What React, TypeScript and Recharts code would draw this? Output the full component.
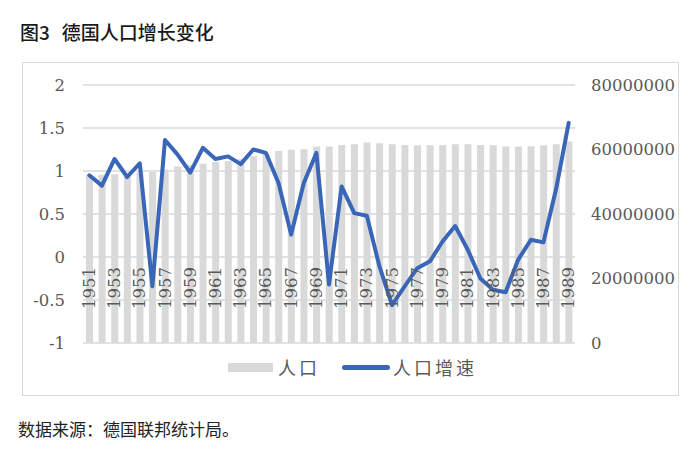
import { Bar, CartesianGrid, ComposedChart, Legend, Line, XAxis, YAxis } from "recharts"

const years = [
  "1951", "1952", "1953", "1954", "1955", "1956", "1957", "1958", "1959", "1960",
  "1961", "1962", "1963", "1964", "1965", "1966", "1967", "1968", "1969", "1970",
  "1971", "1972", "1973", "1974", "1975", "1976", "1977", "1978", "1979", "1980",
  "1981", "1982", "1983", "1984", "1985", "1986", "1987", "1988", "1989",
]

// 人口 (people)
const population = [
  52000000, 52200000, 52300000, 52600000, 52900000, 53000000, 53800000, 54700000, 55200000, 55600000,
  56100000, 56400000, 57000000, 57900000, 58700000, 59500000, 59900000, 60100000, 60900000, 60900000,
  61400000, 61600000, 62200000, 61900000, 61600000, 61400000, 61300000, 61300000, 61400000, 61600000,
  61600000, 61400000, 61300000, 60900000, 60900000, 61000000, 61300000, 61600000, 62500000,
]

// 人口增速 (%)
const growth = [
  0.95, 0.83, 1.14, 0.93, 1.09, -0.34, 1.36, 1.19, 0.98, 1.27,
  1.14, 1.17, 1.08, 1.25, 1.21, 0.86, 0.26, 0.86, 1.21, -0.32,
  0.82, 0.51, 0.48, -0.11, -0.56, -0.34, -0.13, -0.05, 0.18, 0.36,
  0.085, -0.25, -0.38, -0.41, -0.03, 0.2, 0.17, 0.79, 1.56,
]

const leftTicks = [-1, -0.5, 0, 0.5, 1, 1.5, 2]
const rightTicks = [0, 20000000, 40000000, 60000000, 80000000]

const data = years.map((year, i) => ({
  year,
  population: population[i],
  growth: growth[i],
}))

const CHART_W = 655
const CHART_H = 332
const MARGIN = { top: 22, right: 4, bottom: 18, left: 0 }
const PLOT_BOTTOM = 280
// where the left axis' 0 sits; the category labels hang from it
const ZERO_Y = MARGIN.top + ((PLOT_BOTTOM - MARGIN.top) * 2) / 3

const tickFont = { fontFamily: "'DejaVu Serif', serif", fontSize: 16.5, fill: "#595959" }
const GREY = "#d9d9d9"
const BLUE = "#3a66b8"

function YearTick({ x, payload }: { x: number; payload: { value: string } }) {
  return (
    <text
      transform={`translate(${x},${ZERO_Y + 10}) rotate(-90)`}
      textAnchor="end"
      dominantBaseline="central"
      {...tickFont}
    >
      {payload.value}
    </text>
  )
}

function LegendContent() {
  const label = { fontFamily: "'Noto Sans CJK SC'", fontSize: 18, color: "#595959", letterSpacing: 3 }
  return (
    <div style={{ display: "flex", justifyContent: "center", alignItems: "center", height: 20, paddingLeft: 8 }}>
      <span style={{ display: "inline-block", width: 45, height: 9, background: GREY, marginRight: 5 }} />
      <span style={label}>人口</span>
      <span
        style={{ display: "inline-block", width: 48, height: 5, borderRadius: 3, background: BLUE, margin: "0 3px 0 22px" }}
      />
      <span style={label}>人口增速</span>
    </div>
  )
}

export default function App() {
  return (
    <div style={{ position: "absolute", left: 0, top: 0, width: 700, height: 462, background: "#fff" }}>
      <div
        style={{
          position: "absolute",
          left: 20,
          top: 18,
          fontFamily: "'Noto Sans CJK SC'",
          fontSize: 19,
          fontWeight: 500,
          color: "#1a1a1a",
        }}
      >
        <span style={{ marginRight: 12 }}>图3</span>德国人口增长变化
      </div>
      <div
        style={{
          position: "absolute",
          left: 22,
          top: 62,
          width: CHART_W,
          height: CHART_H,
          border: `1.5px solid ${GREY}`,
        }}
      >
        <ComposedChart data={data} height={CHART_H} margin={MARGIN} width={CHART_W}>
          <CartesianGrid stroke={GREY} strokeWidth={1.5} vertical={false} yAxisId="left" />
          <XAxis
            axisLine={false}
            dataKey="year"
            height={14}
            interval={1}
            tick={YearTick}
            tickLine={false}
          />
          <YAxis
            axisLine={false}
            domain={[-1, 2]}
            tick={tickFont}
            tickLine={false}
            tickMargin={18}
            tickSize={0}
            ticks={leftTicks}
            width={60}
            yAxisId="left"
          />
          <YAxis
            axisLine={false}
            domain={[0, 80000000]}
            orientation="right"
            tick={{ ...tickFont, textAnchor: "start" }}
            tickLine={false}
            tickMargin={16}
            tickSize={0}
            ticks={rightTicks}
            width={99}
            yAxisId="right"
          />
          <Bar barSize={7} dataKey="population" fill={GREY} isAnimationActive={false} name="人口" yAxisId="right" />
          <Line
            dataKey="growth"
            dot={false}
            isAnimationActive={false}
            name="人口增速"
            stroke={BLUE}
            strokeLinecap="round"
            strokeLinejoin="round"
            strokeWidth={4}
            type="linear"
            yAxisId="left"
          />
          <Legend content={LegendContent} verticalAlign="bottom" />
        </ComposedChart>
      </div>
      <div
        style={{
          position: "absolute",
          left: 18,
          top: 416,
          fontFamily: "'Noto Sans CJK SC'",
          fontSize: 17,
          color: "#222",
        }}
      >
        数据来源：德国联邦统计局。
      </div>
    </div>
  )
}
